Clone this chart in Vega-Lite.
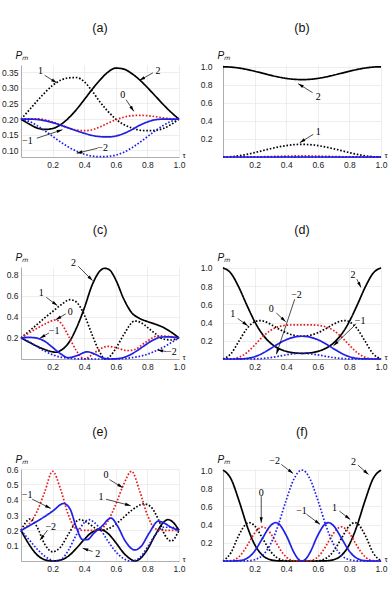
{
"$schema":"https://vega.github.io/schema/vega-lite/v6.json",
"padding":{"left":1,"top":21,"right":0,"bottom":0},
"background":"white",
"bounds":"flush",
"spacing":202,
"datasets":{
"a":[
{"m":"2","t":0,"v":0.2},{"m":"2","t":0.05,"v":0.185},{"m":"2","t":0.1,"v":0.172},{"m":"2","t":0.15,"v":0.167},{"m":"2","t":0.2,"v":0.17},{"m":"2","t":0.25,"v":0.182},{"m":"2","t":0.3,"v":0.203},{"m":"2","t":0.35,"v":0.23},{"m":"2","t":0.4,"v":0.262},{"m":"2","t":0.45,"v":0.295},{"m":"2","t":0.5,"v":0.325},{"m":"2","t":0.55,"v":0.35},{"m":"2","t":0.6,"v":0.363},{"m":"2","t":0.65,"v":0.36},{"m":"2","t":0.7,"v":0.346},{"m":"2","t":0.75,"v":0.326},{"m":"2","t":0.8,"v":0.301},{"m":"2","t":0.85,"v":0.274},{"m":"2","t":0.9,"v":0.247},{"m":"2","t":0.95,"v":0.222},{"m":"2","t":1,"v":0.2},
{"m":"1","t":0,"v":0.2},{"m":"1","t":0.05,"v":0.228},{"m":"1","t":0.1,"v":0.257},{"m":"1","t":0.15,"v":0.284},{"m":"1","t":0.2,"v":0.308},{"m":"1","t":0.25,"v":0.324},{"m":"1","t":0.3,"v":0.332},{"m":"1","t":0.35,"v":0.333},{"m":"1","t":0.4,"v":0.32},{"m":"1","t":0.45,"v":0.29},{"m":"1","t":0.5,"v":0.255},{"m":"1","t":0.55,"v":0.225},{"m":"1","t":0.6,"v":0.2},{"m":"1","t":0.65,"v":0.183},{"m":"1","t":0.7,"v":0.172},{"m":"1","t":0.75,"v":0.165},{"m":"1","t":0.8,"v":0.163},{"m":"1","t":0.85,"v":0.164},{"m":"1","t":0.9,"v":0.17},{"m":"1","t":0.95,"v":0.183},{"m":"1","t":1,"v":0.2},
{"m":"0","t":0,"v":0.2},{"m":"0","t":0.05,"v":0.201},{"m":"0","t":0.1,"v":0.201},{"m":"0","t":0.15,"v":0.198},{"m":"0","t":0.2,"v":0.191},{"m":"0","t":0.25,"v":0.181},{"m":"0","t":0.3,"v":0.172},{"m":"0","t":0.35,"v":0.165},{"m":"0","t":0.4,"v":0.163},{"m":"0","t":0.45,"v":0.166},{"m":"0","t":0.5,"v":0.175},{"m":"0","t":0.55,"v":0.187},{"m":"0","t":0.6,"v":0.198},{"m":"0","t":0.65,"v":0.206},{"m":"0","t":0.7,"v":0.211},{"m":"0","t":0.75,"v":0.212},{"m":"0","t":0.8,"v":0.211},{"m":"0","t":0.85,"v":0.208},{"m":"0","t":0.9,"v":0.204},{"m":"0","t":0.95,"v":0.201},{"m":"0","t":1,"v":0.2},
{"m":"-1","t":0,"v":0.2},{"m":"-1","t":0.05,"v":0.2},{"m":"-1","t":0.1,"v":0.199},{"m":"-1","t":0.15,"v":0.195},{"m":"-1","t":0.2,"v":0.189},{"m":"-1","t":0.25,"v":0.181},{"m":"-1","t":0.3,"v":0.172},{"m":"-1","t":0.35,"v":0.163},{"m":"-1","t":0.4,"v":0.155},{"m":"-1","t":0.45,"v":0.148},{"m":"-1","t":0.5,"v":0.144},{"m":"-1","t":0.55,"v":0.143},{"m":"-1","t":0.6,"v":0.146},{"m":"-1","t":0.65,"v":0.154},{"m":"-1","t":0.7,"v":0.166},{"m":"-1","t":0.75,"v":0.18},{"m":"-1","t":0.8,"v":0.191},{"m":"-1","t":0.85,"v":0.198},{"m":"-1","t":0.9,"v":0.2},{"m":"-1","t":0.95,"v":0.2},{"m":"-1","t":1,"v":0.2},
{"m":"-2","t":0,"v":0.2},{"m":"-2","t":0.05,"v":0.193},{"m":"-2","t":0.1,"v":0.18},{"m":"-2","t":0.15,"v":0.163},{"m":"-2","t":0.2,"v":0.145},{"m":"-2","t":0.25,"v":0.127},{"m":"-2","t":0.3,"v":0.111},{"m":"-2","t":0.35,"v":0.098},{"m":"-2","t":0.4,"v":0.088},{"m":"-2","t":0.45,"v":0.082},{"m":"-2","t":0.5,"v":0.08},{"m":"-2","t":0.55,"v":0.081},{"m":"-2","t":0.6,"v":0.085},{"m":"-2","t":0.65,"v":0.094},{"m":"-2","t":0.7,"v":0.108},{"m":"-2","t":0.75,"v":0.125},{"m":"-2","t":0.8,"v":0.144},{"m":"-2","t":0.85,"v":0.163},{"m":"-2","t":0.9,"v":0.18},{"m":"-2","t":0.95,"v":0.193},{"m":"-2","t":1,"v":0.2}
],
"aa":[
{"lab":"1","tl":0.124,"vl":0.353,"t1":0.15,"v1":0.34,"t2":0.226,"v2":0.316,"ang":122.6},
{"lab":"2","tl":0.867,"vl":0.353,"t1":0.835,"v1":0.348,"t2":0.75,"v2":0.324,"ang":241.2},
{"lab":"0","tl":0.644,"vl":0.276,"t1":0.665,"v1":0.262,"t2":0.714,"v2":0.225,"ang":146.7},
{"lab":"−1","tl":0.04,"vl":0.131,"t1":0.1,"v1":0.139,"t2":0.262,"v2":0.166,"ang":72.9},
{"lab":"−2","tl":0.517,"vl":0.107,"t1":0.485,"v1":0.107,"t2":0.353,"v2":0.091,"ang":256.4}
],
"b":[
{"m":"2","t":0,"v":1},{"m":"2","t":0.05,"v":0.9965},{"m":"2","t":0.1,"v":0.9864},{"m":"2","t":0.15,"v":0.9707},{"m":"2","t":0.2,"v":0.9509},{"m":"2","t":0.25,"v":0.929},{"m":"2","t":0.3,"v":0.907},{"m":"2","t":0.35,"v":0.8873},{"m":"2","t":0.4,"v":0.8716},{"m":"2","t":0.45,"v":0.8615},{"m":"2","t":0.5,"v":0.858},{"m":"2","t":0.55,"v":0.8615},{"m":"2","t":0.6,"v":0.8716},{"m":"2","t":0.65,"v":0.8873},{"m":"2","t":0.7,"v":0.907},{"m":"2","t":0.75,"v":0.929},{"m":"2","t":0.8,"v":0.9509},{"m":"2","t":0.85,"v":0.9707},{"m":"2","t":0.9,"v":0.9864},{"m":"2","t":0.95,"v":0.9965},{"m":"2","t":1,"v":1},
{"m":"1","t":0,"v":0},{"m":"1","t":0.05,"v":0.0034},{"m":"1","t":0.1,"v":0.0134},{"m":"1","t":0.15,"v":0.0289},{"m":"1","t":0.2,"v":0.0484},{"m":"1","t":0.25,"v":0.07},{"m":"1","t":0.3,"v":0.0916},{"m":"1","t":0.35,"v":0.111},{"m":"1","t":0.4,"v":0.1266},{"m":"1","t":0.45,"v":0.1366},{"m":"1","t":0.5,"v":0.14},{"m":"1","t":0.55,"v":0.1366},{"m":"1","t":0.6,"v":0.1266},{"m":"1","t":0.65,"v":0.111},{"m":"1","t":0.7,"v":0.0916},{"m":"1","t":0.75,"v":0.07},{"m":"1","t":0.8,"v":0.0484},{"m":"1","t":0.85,"v":0.0289},{"m":"1","t":0.9,"v":0.0134},{"m":"1","t":0.95,"v":0.0034},{"m":"1","t":1,"v":0},
{"m":"0","t":0,"v":0},{"m":"0","t":0.2,"v":0.0014},{"m":"0","t":0.3,"v":0.0051},{"m":"0","t":0.4,"v":0.0098},{"m":"0","t":0.5,"v":0.012},{"m":"0","t":0.6,"v":0.0098},{"m":"0","t":0.7,"v":0.0051},{"m":"0","t":0.8,"v":0.0014},{"m":"0","t":1,"v":0},
{"m":"-2","t":0,"v":0},{"m":"-2","t":0.5,"v":0},{"m":"-2","t":1,"v":0},
{"m":"-1","t":0,"v":0},{"m":"-1","t":0.5,"v":0},{"m":"-1","t":1,"v":0}
],
"ab":[
{"lab":"2","tl":0.603,"vl":0.665,"t1":0.567,"v1":0.713,"t2":0.476,"v2":0.813,"ang":302.1},
{"lab":"1","tl":0.603,"vl":0.277,"t1":0.571,"v1":0.251,"t2":0.486,"v2":0.159,"ang":238}
],
"c":[
{"m":"2","t":0,"v":0.2},{"m":"2","t":0.05,"v":0.16},{"m":"2","t":0.1,"v":0.122},{"m":"2","t":0.15,"v":0.09},{"m":"2","t":0.2,"v":0.068},{"m":"2","t":0.22,"v":0.064},{"m":"2","t":0.25,"v":0.08},{"m":"2","t":0.3,"v":0.15},{"m":"2","t":0.35,"v":0.29},{"m":"2","t":0.4,"v":0.48},{"m":"2","t":0.45,"v":0.7},{"m":"2","t":0.5,"v":0.835},{"m":"2","t":0.53,"v":0.86},{"m":"2","t":0.56,"v":0.845},{"m":"2","t":0.6,"v":0.75},{"m":"2","t":0.65,"v":0.57},{"m":"2","t":0.7,"v":0.44},{"m":"2","t":0.75,"v":0.385},{"m":"2","t":0.8,"v":0.355},{"m":"2","t":0.85,"v":0.33},{"m":"2","t":0.9,"v":0.3},{"m":"2","t":0.95,"v":0.255},{"m":"2","t":1,"v":0.2},
{"m":"1","t":0,"v":0.2},{"m":"1","t":0.05,"v":0.262},{"m":"1","t":0.1,"v":0.325},{"m":"1","t":0.15,"v":0.39},{"m":"1","t":0.2,"v":0.45},{"m":"1","t":0.25,"v":0.51},{"m":"1","t":0.31,"v":0.562},{"m":"1","t":0.35,"v":0.54},{"m":"1","t":0.4,"v":0.42},{"m":"1","t":0.45,"v":0.23},{"m":"1","t":0.5,"v":0.06},{"m":"1","t":0.53,"v":0},{"m":"1","t":0.56,"v":0.02},{"m":"1","t":0.6,"v":0.1},{"m":"1","t":0.65,"v":0.23},{"m":"1","t":0.72,"v":0.36},{"m":"1","t":0.76,"v":0.345},{"m":"1","t":0.8,"v":0.3},{"m":"1","t":0.85,"v":0.24},{"m":"1","t":0.9,"v":0.19},{"m":"1","t":0.95,"v":0.18},{"m":"1","t":1,"v":0.2},
{"m":"0","t":0,"v":0.2},{"m":"0","t":0.05,"v":0.245},{"m":"0","t":0.1,"v":0.29},{"m":"0","t":0.15,"v":0.33},{"m":"0","t":0.22,"v":0.37},{"m":"0","t":0.25,"v":0.345},{"m":"0","t":0.3,"v":0.22},{"m":"0","t":0.35,"v":0.08},{"m":"0","t":0.4,"v":0},{"m":"0","t":0.45,"v":0.04},{"m":"0","t":0.5,"v":0.095},{"m":"0","t":0.55,"v":0.12},{"m":"0","t":0.6,"v":0.108},{"m":"0","t":0.67,"v":0.08},{"m":"0","t":0.72,"v":0.09},{"m":"0","t":0.78,"v":0.15},{"m":"0","t":0.87,"v":0.22},{"m":"0","t":0.93,"v":0.215},{"m":"0","t":1,"v":0.2},
{"m":"-1","t":0,"v":0.2},{"m":"-1","t":0.05,"v":0.205},{"m":"-1","t":0.1,"v":0.198},{"m":"-1","t":0.15,"v":0.168},{"m":"-1","t":0.2,"v":0.11},{"m":"-1","t":0.25,"v":0.05},{"m":"-1","t":0.3,"v":0.012},{"m":"-1","t":0.35,"v":0.03},{"m":"-1","t":0.42,"v":0.068},{"m":"-1","t":0.47,"v":0.045},{"m":"-1","t":0.52,"v":0.01},{"m":"-1","t":0.56,"v":0},{"m":"-1","t":0.62,"v":0.005},{"m":"-1","t":0.67,"v":0.025},{"m":"-1","t":0.72,"v":0.065},{"m":"-1","t":0.77,"v":0.115},{"m":"-1","t":0.82,"v":0.165},{"m":"-1","t":0.88,"v":0.205},{"m":"-1","t":0.92,"v":0.21},{"m":"-1","t":0.96,"v":0.207},{"m":"-1","t":1,"v":0.2},
{"m":"-2","t":0,"v":0.2},{"m":"-2","t":0.05,"v":0.165},{"m":"-2","t":0.1,"v":0.12},{"m":"-2","t":0.15,"v":0.075},{"m":"-2","t":0.2,"v":0.04},{"m":"-2","t":0.25,"v":0.018},{"m":"-2","t":0.3,"v":0.007},{"m":"-2","t":0.4,"v":0.001},{"m":"-2","t":0.5,"v":0},{"m":"-2","t":0.6,"v":0.001},{"m":"-2","t":0.7,"v":0.012},{"m":"-2","t":0.75,"v":0.025},{"m":"-2","t":0.8,"v":0.045},{"m":"-2","t":0.85,"v":0.075},{"m":"-2","t":0.9,"v":0.11},{"m":"-2","t":0.95,"v":0.155},{"m":"-2","t":1,"v":0.2}
],
"ac":[
{"lab":"2","tl":0.332,"vl":0.907,"t1":0.362,"v1":0.879,"t2":0.453,"v2":0.743,"ang":135},
{"lab":"1","tl":0.128,"vl":0.622,"t1":0.16,"v1":0.585,"t2":0.23,"v2":0.506,"ang":127.1},
{"lab":"0","tl":0.311,"vl":0.449,"t1":0.283,"v1":0.427,"t2":0.22,"v2":0.373,"ang":240.5},
{"lab":"−1","tl":0.21,"vl":0.27,"t1":0.177,"v1":0.247,"t2":0.12,"v2":0.197,"ang":239.3},
{"lab":"−2","tl":0.952,"vl":0.064,"t1":0.92,"v1":0.07,"t2":0.863,"v2":0.086,"ang":280.5}
],
"d":[
{"m":"2","t":0,"v":1},{"m":"2","t":0.05,"v":0.9413},{"m":"2","t":0.1,"v":0.7884},{"m":"2","t":0.15,"v":0.5948},{"m":"2","t":0.2,"v":0.413},{"m":"2","t":0.232,"v":0.3164},{"m":"2","t":0.25,"v":0.2718},{"m":"2","t":0.3,"v":0.1759},{"m":"2","t":0.35,"v":0.1172},{"m":"2","t":0.4,"v":0.084},{"m":"2","t":0.45,"v":0.0674},{"m":"2","t":0.5,"v":0.0625},{"m":"2","t":0.55,"v":0.0674},{"m":"2","t":0.6,"v":0.084},{"m":"2","t":0.65,"v":0.1172},{"m":"2","t":0.7,"v":0.1759},{"m":"2","t":0.75,"v":0.2718},{"m":"2","t":0.768,"v":0.3164},{"m":"2","t":0.8,"v":0.413},{"m":"2","t":0.85,"v":0.5948},{"m":"2","t":0.9,"v":0.7884},{"m":"2","t":0.95,"v":0.9413},{"m":"2","t":1,"v":1},
{"m":"1","t":0,"v":0},{"m":"1","t":0.05,"v":0.0574},{"m":"1","t":0.1,"v":0.1931},{"m":"1","t":0.15,"v":0.3301},{"m":"1","t":0.2,"v":0.4088},{"m":"1","t":0.232,"v":0.4219},{"m":"1","t":0.25,"v":0.4185},{"m":"1","t":0.3,"v":0.3828},{"m":"1","t":0.35,"v":0.3324},{"m":"1","t":0.4,"v":0.2881},{"m":"1","t":0.45,"v":0.2596},{"m":"1","t":0.5,"v":0.25},{"m":"1","t":0.55,"v":0.2596},{"m":"1","t":0.6,"v":0.2881},{"m":"1","t":0.65,"v":0.3324},{"m":"1","t":0.7,"v":0.3828},{"m":"1","t":0.75,"v":0.4185},{"m":"1","t":0.768,"v":0.4219},{"m":"1","t":0.8,"v":0.4088},{"m":"1","t":0.85,"v":0.3301},{"m":"1","t":0.9,"v":0.1931},{"m":"1","t":0.95,"v":0.0574},{"m":"1","t":1,"v":0},
{"m":"0","t":0,"v":0},{"m":"0","t":0.05,"v":0.0013},{"m":"0","t":0.1,"v":0.0177},{"m":"0","t":0.15,"v":0.0687},{"m":"0","t":0.2,"v":0.1518},{"m":"0","t":0.232,"v":0.2109},{"m":"0","t":0.25,"v":0.2417},{"m":"0","t":0.3,"v":0.3125},{"m":"0","t":0.35,"v":0.3536},{"m":"0","t":0.4,"v":0.3706},{"m":"0","t":0.45,"v":0.3747},{"m":"0","t":0.5,"v":0.375},{"m":"0","t":0.55,"v":0.3747},{"m":"0","t":0.6,"v":0.3706},{"m":"0","t":0.65,"v":0.3536},{"m":"0","t":0.7,"v":0.3125},{"m":"0","t":0.75,"v":0.2417},{"m":"0","t":0.768,"v":0.2109},{"m":"0","t":0.8,"v":0.1518},{"m":"0","t":0.85,"v":0.0687},{"m":"0","t":0.9,"v":0.0177},{"m":"0","t":0.95,"v":0.0013},{"m":"0","t":1,"v":0},
{"m":"-1","t":0,"v":0},{"m":"-1","t":0.05,"v":0},{"m":"-1","t":0.1,"v":0.0007},{"m":"-1","t":0.15,"v":0.0064},{"m":"-1","t":0.2,"v":0.025},{"m":"-1","t":0.232,"v":0.0469},{"m":"-1","t":0.25,"v":0.062},{"m":"-1","t":0.3,"v":0.1134},{"m":"-1","t":0.35,"v":0.1671},{"m":"-1","t":0.4,"v":0.2119},{"m":"-1","t":0.45,"v":0.2404},{"m":"-1","t":0.5,"v":0.25},{"m":"-1","t":0.55,"v":0.2404},{"m":"-1","t":0.6,"v":0.2119},{"m":"-1","t":0.65,"v":0.1671},{"m":"-1","t":0.7,"v":0.1134},{"m":"-1","t":0.75,"v":0.062},{"m":"-1","t":0.768,"v":0.0469},{"m":"-1","t":0.8,"v":0.025},{"m":"-1","t":0.85,"v":0.0064},{"m":"-1","t":0.9,"v":0.0007},{"m":"-1","t":0.95,"v":0},{"m":"-1","t":1,"v":0},
{"m":"-2","t":0,"v":0},{"m":"-2","t":0.1,"v":0},{"m":"-2","t":0.15,"v":0.0002},{"m":"-2","t":0.2,"v":0.0016},{"m":"-2","t":0.232,"v":0.0039},{"m":"-2","t":0.25,"v":0.006},{"m":"-2","t":0.3,"v":0.0154},{"m":"-2","t":0.35,"v":0.0296},{"m":"-2","t":0.4,"v":0.0454},{"m":"-2","t":0.45,"v":0.0578},{"m":"-2","t":0.5,"v":0.0625},{"m":"-2","t":0.55,"v":0.0578},{"m":"-2","t":0.6,"v":0.0454},{"m":"-2","t":0.65,"v":0.0296},{"m":"-2","t":0.7,"v":0.0154},{"m":"-2","t":0.75,"v":0.006},{"m":"-2","t":0.768,"v":0.0039},{"m":"-2","t":0.8,"v":0.0016},{"m":"-2","t":0.85,"v":0.0002},{"m":"-2","t":0.9,"v":0},{"m":"-2","t":1,"v":0}
],
"ad":[
{"lab":"2","tl":0.822,"vl":0.924,"t1":0.847,"v1":0.877,"t2":0.873,"v2":0.785,"ang":154.4},
{"lab":"1","tl":0.062,"vl":0.493,"t1":0.093,"v1":0.445,"t2":0.157,"v2":0.365,"ang":126.3},
{"lab":"0","tl":0.306,"vl":0.548,"t1":0.338,"v1":0.504,"t2":0.397,"v2":0.409,"ang":132.9},
{"lab":"−2","tl":0.465,"vl":0.705,"t1":0.454,"v1":0.657,"t2":0.338,"v2":0.053,"ang":198.4},
{"lab":"−1","tl":0.868,"vl":0.419,"t1":0.843,"v1":0.385,"t2":0.699,"v2":0.145,"ang":226.3}
],
"e":[
{"m":"2","t":0,"v":0.2},{"m":"2","t":0.05,"v":0.11},{"m":"2","t":0.1,"v":0.042},{"m":"2","t":0.15,"v":0.008},{"m":"2","t":0.2,"v":0},{"m":"2","t":0.25,"v":0.006},{"m":"2","t":0.3,"v":0.032},{"m":"2","t":0.35,"v":0.082},{"m":"2","t":0.4,"v":0.14},{"m":"2","t":0.45,"v":0.188},{"m":"2","t":0.5,"v":0.205},{"m":"2","t":0.55,"v":0.18},{"m":"2","t":0.6,"v":0.12},{"m":"2","t":0.65,"v":0.052},{"m":"2","t":0.7,"v":0.008},{"m":"2","t":0.72,"v":0},{"m":"2","t":0.75,"v":0.012},{"m":"2","t":0.8,"v":0.075},{"m":"2","t":0.85,"v":0.17},{"m":"2","t":0.9,"v":0.25},{"m":"2","t":0.93,"v":0.27},{"m":"2","t":0.96,"v":0.255},{"m":"2","t":1,"v":0.2},
{"m":"1","t":0,"v":0.2},{"m":"1","t":0.06,"v":0.275},{"m":"1","t":0.1,"v":0.225},{"m":"1","t":0.15,"v":0.11},{"m":"1","t":0.2,"v":0.06},{"m":"1","t":0.25,"v":0.09},{"m":"1","t":0.3,"v":0.175},{"m":"1","t":0.37,"v":0.27},{"m":"1","t":0.42,"v":0.25},{"m":"1","t":0.47,"v":0.215},{"m":"1","t":0.51,"v":0.2},{"m":"1","t":0.55,"v":0.21},{"m":"1","t":0.6,"v":0.24},{"m":"1","t":0.65,"v":0.285},{"m":"1","t":0.7,"v":0.33},{"m":"1","t":0.78,"v":0.372},{"m":"1","t":0.82,"v":0.355},{"m":"1","t":0.87,"v":0.27},{"m":"1","t":0.91,"v":0.17},{"m":"1","t":0.95,"v":0.13},{"m":"1","t":1,"v":0.2},
{"m":"0","t":0,"v":0.2},{"m":"0","t":0.05,"v":0.24},{"m":"0","t":0.1,"v":0.32},{"m":"0","t":0.15,"v":0.45},{"m":"0","t":0.2,"v":0.585},{"m":"0","t":0.25,"v":0.47},{"m":"0","t":0.3,"v":0.3},{"m":"0","t":0.35,"v":0.21},{"m":"0","t":0.4,"v":0.2},{"m":"0","t":0.45,"v":0.2},{"m":"0","t":0.5,"v":0.205},{"m":"0","t":0.55,"v":0.26},{"m":"0","t":0.6,"v":0.37},{"m":"0","t":0.65,"v":0.5},{"m":"0","t":0.7,"v":0.585},{"m":"0","t":0.75,"v":0.46},{"m":"0","t":0.8,"v":0.3},{"m":"0","t":0.85,"v":0.21},{"m":"0","t":0.9,"v":0.2},{"m":"0","t":1,"v":0.2},
{"m":"-1","t":0,"v":0.2},{"m":"-1","t":0.05,"v":0.228},{"m":"-1","t":0.1,"v":0.258},{"m":"-1","t":0.15,"v":0.29},{"m":"-1","t":0.2,"v":0.325},{"m":"-1","t":0.27,"v":0.375},{"m":"-1","t":0.31,"v":0.34},{"m":"-1","t":0.35,"v":0.22},{"m":"-1","t":0.39,"v":0.14},{"m":"-1","t":0.42,"v":0.14},{"m":"-1","t":0.46,"v":0.18},{"m":"-1","t":0.51,"v":0.225},{"m":"-1","t":0.57,"v":0.28},{"m":"-1","t":0.61,"v":0.23},{"m":"-1","t":0.66,"v":0.13},{"m":"-1","t":0.72,"v":0.072},{"m":"-1","t":0.76,"v":0.095},{"m":"-1","t":0.81,"v":0.18},{"m":"-1","t":0.87,"v":0.26},{"m":"-1","t":0.91,"v":0.245},{"m":"-1","t":0.95,"v":0.22},{"m":"-1","t":1,"v":0.2},
{"m":"-2","t":0,"v":0.2},{"m":"-2","t":0.05,"v":0.14},{"m":"-2","t":0.1,"v":0.08},{"m":"-2","t":0.15,"v":0.032},{"m":"-2","t":0.22,"v":0},{"m":"-2","t":0.26,"v":0.015},{"m":"-2","t":0.3,"v":0.07},{"m":"-2","t":0.35,"v":0.17},{"m":"-2","t":0.4,"v":0.25},{"m":"-2","t":0.43,"v":0.27},{"m":"-2","t":0.46,"v":0.255},{"m":"-2","t":0.5,"v":0.21},{"m":"-2","t":0.55,"v":0.13},{"m":"-2","t":0.6,"v":0.06},{"m":"-2","t":0.65,"v":0.015},{"m":"-2","t":0.7,"v":0},{"m":"-2","t":0.75,"v":0.02},{"m":"-2","t":0.8,"v":0.09},{"m":"-2","t":0.85,"v":0.17},{"m":"-2","t":0.9,"v":0.22},{"m":"-2","t":0.95,"v":0.22},{"m":"-2","t":1,"v":0.2}
],
"ae":[
{"lab":"0","tl":0.538,"vl":0.559,"t1":0.56,"v1":0.531,"t2":0.644,"v2":0.478,"ang":122},
{"lab":"1","tl":0.506,"vl":0.418,"t1":0.538,"v1":0.403,"t2":0.694,"v2":0.361,"ang":105.3},
{"lab":"−1","tl":0.039,"vl":0.429,"t1":0.071,"v1":0.403,"t2":0.188,"v2":0.343,"ang":117},
{"lab":"−2","tl":0.188,"vl":0.222,"t1":0.167,"v1":0.2,"t2":0.12,"v2":0.136,"ang":216.3},
{"lab":"2","tl":0.485,"vl":0.046,"t1":0.453,"v1":0.062,"t2":0.39,"v2":0.083,"ang":288.4}
],
"f":[
{"m":"2","t":0,"v":1},{"m":"2","t":0.05,"v":0.9057},{"m":"2","t":0.1,"v":0.6694},{"m":"2","t":0.15,"v":0.3972},{"m":"2","t":0.1667,"v":0.3164},{"m":"2","t":0.2,"v":0.1835},{"m":"2","t":0.25,"v":0.0625},{"m":"2","t":0.3,"v":0.0143},{"m":"2","t":0.3333,"v":0.0039},{"m":"2","t":0.35,"v":0.0018},{"m":"2","t":0.4,"v":0.0001},{"m":"2","t":0.45,"v":0},{"m":"2","t":0.5,"v":0},{"m":"2","t":0.55,"v":0},{"m":"2","t":0.6,"v":0.0001},{"m":"2","t":0.65,"v":0.0018},{"m":"2","t":0.6667,"v":0.0039},{"m":"2","t":0.7,"v":0.0143},{"m":"2","t":0.75,"v":0.0625},{"m":"2","t":0.8,"v":0.1835},{"m":"2","t":0.8333,"v":0.3164},{"m":"2","t":0.85,"v":0.3972},{"m":"2","t":0.9,"v":0.6694},{"m":"2","t":0.95,"v":0.9057},{"m":"2","t":1,"v":1},
{"m":"1","t":0,"v":0},{"m":"1","t":0.05,"v":0.0909},{"m":"1","t":0.1,"v":0.2827},{"m":"1","t":0.15,"v":0.4125},{"m":"1","t":0.1667,"v":0.4219},{"m":"1","t":0.2,"v":0.3875},{"m":"1","t":0.25,"v":0.25},{"m":"1","t":0.3,"v":0.108},{"m":"1","t":0.3333,"v":0.0469},{"m":"1","t":0.35,"v":0.0278},{"m":"1","t":0.4,"v":0.0032},{"m":"1","t":0.45,"v":0.0001},{"m":"1","t":0.5,"v":0},{"m":"1","t":0.55,"v":0.0001},{"m":"1","t":0.6,"v":0.0032},{"m":"1","t":0.65,"v":0.0278},{"m":"1","t":0.6667,"v":0.0469},{"m":"1","t":0.7,"v":0.108},{"m":"1","t":0.75,"v":0.25},{"m":"1","t":0.8,"v":0.3875},{"m":"1","t":0.8333,"v":0.4219},{"m":"1","t":0.85,"v":0.4125},{"m":"1","t":0.9,"v":0.2827},{"m":"1","t":0.95,"v":0.0909},{"m":"1","t":1,"v":0},
{"m":"0","t":0,"v":0},{"m":"0","t":0.05,"v":0.0034},{"m":"0","t":0.1,"v":0.0448},{"m":"0","t":0.15,"v":0.1607},{"m":"0","t":0.1667,"v":0.2109},{"m":"0","t":0.2,"v":0.3068},{"m":"0","t":0.25,"v":0.375},{"m":"0","t":0.3,"v":0.3068},{"m":"0","t":0.3333,"v":0.2109},{"m":"0","t":0.35,"v":0.1607},{"m":"0","t":0.4,"v":0.0448},{"m":"0","t":0.45,"v":0.0034},{"m":"0","t":0.5,"v":0},{"m":"0","t":0.55,"v":0.0034},{"m":"0","t":0.6,"v":0.0448},{"m":"0","t":0.65,"v":0.1607},{"m":"0","t":0.6667,"v":0.2109},{"m":"0","t":0.7,"v":0.3068},{"m":"0","t":0.75,"v":0.375},{"m":"0","t":0.8,"v":0.3068},{"m":"0","t":0.8333,"v":0.2109},{"m":"0","t":0.85,"v":0.1607},{"m":"0","t":0.9,"v":0.0448},{"m":"0","t":0.95,"v":0.0034},{"m":"0","t":1,"v":0},
{"m":"-2","t":0,"v":0},{"m":"-2","t":0.05,"v":0},{"m":"-2","t":0.1,"v":0.0001},{"m":"-2","t":0.15,"v":0.0018},{"m":"-2","t":0.1667,"v":0.0039},{"m":"-2","t":0.2,"v":0.0143},{"m":"-2","t":0.25,"v":0.0625},{"m":"-2","t":0.3,"v":0.1835},{"m":"-2","t":0.3333,"v":0.3164},{"m":"-2","t":0.35,"v":0.3972},{"m":"-2","t":0.4,"v":0.6694},{"m":"-2","t":0.45,"v":0.9057},{"m":"-2","t":0.475,"v":0.9756},{"m":"-2","t":0.5,"v":1},{"m":"-2","t":0.525,"v":0.9756},{"m":"-2","t":0.55,"v":0.9057},{"m":"-2","t":0.6,"v":0.6694},{"m":"-2","t":0.65,"v":0.3972},{"m":"-2","t":0.6667,"v":0.3164},{"m":"-2","t":0.7,"v":0.1835},{"m":"-2","t":0.75,"v":0.0625},{"m":"-2","t":0.8,"v":0.0143},{"m":"-2","t":0.8333,"v":0.0039},{"m":"-2","t":0.85,"v":0.0018},{"m":"-2","t":0.9,"v":0.0001},{"m":"-2","t":0.95,"v":0},{"m":"-2","t":1,"v":0},
{"m":"-1","t":0,"v":0},{"m":"-1","t":0.05,"v":0.0001},{"m":"-1","t":0.1,"v":0.0032},{"m":"-1","t":0.15,"v":0.0278},{"m":"-1","t":0.1667,"v":0.0469},{"m":"-1","t":0.2,"v":0.108},{"m":"-1","t":0.25,"v":0.25},{"m":"-1","t":0.3,"v":0.3875},{"m":"-1","t":0.3333,"v":0.4219},{"m":"-1","t":0.35,"v":0.4125},{"m":"-1","t":0.4,"v":0.2827},{"m":"-1","t":0.45,"v":0.0909},{"m":"-1","t":0.475,"v":0.0242},{"m":"-1","t":0.5,"v":0},{"m":"-1","t":0.525,"v":0.0242},{"m":"-1","t":0.55,"v":0.0909},{"m":"-1","t":0.6,"v":0.2827},{"m":"-1","t":0.65,"v":0.4125},{"m":"-1","t":0.6667,"v":0.4219},{"m":"-1","t":0.7,"v":0.3875},{"m":"-1","t":0.75,"v":0.25},{"m":"-1","t":0.8,"v":0.108},{"m":"-1","t":0.8333,"v":0.0469},{"m":"-1","t":0.85,"v":0.0278},{"m":"-1","t":0.9,"v":0.0032},{"m":"-1","t":0.95,"v":0.0001},{"m":"-1","t":1,"v":0}
],
"af":[
{"lab":"−2","tl":0.327,"vl":1.099,"t1":0.369,"v1":1.062,"t2":0.444,"v2":0.963,"ang":127.6},
{"lab":"2","tl":0.826,"vl":1.088,"t1":0.854,"v1":1.055,"t2":0.921,"v2":0.952,"ang":131.2},
{"lab":"0","tl":0.242,"vl":0.75,"t1":0.242,"v1":0.713,"t2":0.242,"v2":0.42,"ang":180},
{"lab":"−1","tl":0.497,"vl":0.548,"t1":0.529,"v1":0.514,"t2":0.614,"v2":0.403,"ang":126.9},
{"lab":"1","tl":0.705,"vl":0.585,"t1":0.737,"v1":0.549,"t2":0.805,"v2":0.457,"ang":128}
]
},
"vconcat":[
{"hconcat":[
{"width":158,"height":92,"title":"(a)","layer":[
{"data":{"name":"a"},"mark":{"type":"line","interpolate":"monotone","clip":false,"strokeWidth":1.7},"encoding":{
"x":{"field":"t","type":"quantitative","scale":{"domain":[0,1]},"axis":{"values":[0.2,0.4,0.6,0.8,1],"format":".1f","title":"τ","labelOverlap":false,"labelFlush":false}},
"y":{"field":"v","type":"quantitative","scale":{"domain":[0.079,0.373]},"axis":{"values":[0.1,0.15,0.2,0.25,0.3,0.35],"format":".2f","title":"Pₘ","labelOverlap":false,"labelFlush":false}},
"color":{"field":"m","type":"nominal","scale":{"domain":["2","1","0","-1","-2"],"range":["#000000","#000000","#e81818","#1f1fe6","#1f1fe6"]},"legend":null},
"strokeDash":{"field":"m","type":"nominal","scale":{"domain":["2","1","0","-1","-2"],"range":[[1,0],[1.6,1.8],[1.6,1.8],[1,0],[1.6,1.8]]},"legend":null}}},
{"data":{"name":"aa"},"mark":{"type":"rule","color":"#000","strokeWidth":0.7},"encoding":{"x":{"field":"t1","type":"quantitative","scale":{"domain":[0,1]},"axis":{"values":[0.2,0.4,0.6,0.8,1],"format":".1f","title":"τ","labelOverlap":false,"labelFlush":false}},"y":{"field":"v1","type":"quantitative","scale":{"domain":[0.079,0.373]},"axis":{"values":[0.1,0.15,0.2,0.25,0.3,0.35],"format":".2f","title":"Pₘ","labelOverlap":false,"labelFlush":false}},"x2":{"field":"t2"},"y2":{"field":"v2"}}},
{"data":{"name":"aa"},"mark":{"type":"point","shape":"M0,0L-0.45,1.6L0.45,1.6Z","filled":true,"color":"#000","opacity":1,"size":50},"encoding":{"x":{"field":"t2","type":"quantitative","scale":{"domain":[0,1]},"axis":{"values":[0.2,0.4,0.6,0.8,1],"format":".1f","title":"τ","labelOverlap":false,"labelFlush":false}},"y":{"field":"v2","type":"quantitative","scale":{"domain":[0.079,0.373]},"axis":{"values":[0.1,0.15,0.2,0.25,0.3,0.35],"format":".2f","title":"Pₘ","labelOverlap":false,"labelFlush":false}},"angle":{"field":"ang","type":"quantitative","scale":null}}},
{"data":{"name":"aa"},"mark":{"type":"text","font":"Liberation Serif","fontSize":10,"color":"#000"},"encoding":{"x":{"field":"tl","type":"quantitative","scale":{"domain":[0,1]},"axis":{"values":[0.2,0.4,0.6,0.8,1],"format":".1f","title":"τ","labelOverlap":false,"labelFlush":false}},"y":{"field":"vl","type":"quantitative","scale":{"domain":[0.079,0.373]},"axis":{"values":[0.1,0.15,0.2,0.25,0.3,0.35],"format":".2f","title":"Pₘ","labelOverlap":false,"labelFlush":false}},"text":{"field":"lab"}}}
]},
{"width":158,"height":92,"title":"(b)","layer":[
{"data":{"name":"b"},"mark":{"type":"line","interpolate":"monotone","clip":false,"strokeWidth":1.7},"encoding":{
"x":{"field":"t","type":"quantitative","scale":{"domain":[0,1]},"axis":{"values":[0.2,0.4,0.6,0.8,1],"format":".1f","title":"τ","labelOverlap":false,"labelFlush":false}},
"y":{"field":"v","type":"quantitative","scale":{"domain":[0,1.02]},"axis":{"values":[0.2,0.4,0.6,0.8,1],"format":".1f","title":"Pₘ","labelPadding":11,"labelOverlap":false,"labelFlush":false}},
"color":{"field":"m","type":"nominal","scale":{"domain":["2","1","0","-1","-2"],"range":["#000000","#000000","#e81818","#1f1fe6","#1f1fe6"]},"legend":null},
"strokeDash":{"field":"m","type":"nominal","scale":{"domain":["2","1","0","-1","-2"],"range":[[1,0],[1.6,1.8],[1.6,1.8],[1,0],[1.6,1.8]]},"legend":null}}},
{"data":{"name":"ab"},"mark":{"type":"rule","color":"#000","strokeWidth":0.7},"encoding":{"x":{"field":"t1","type":"quantitative","scale":{"domain":[0,1]},"axis":{"values":[0.2,0.4,0.6,0.8,1],"format":".1f","title":"τ","labelOverlap":false,"labelFlush":false}},"y":{"field":"v1","type":"quantitative","scale":{"domain":[0,1.02]},"axis":{"values":[0.2,0.4,0.6,0.8,1],"format":".1f","title":"Pₘ","labelPadding":11,"labelOverlap":false,"labelFlush":false}},"x2":{"field":"t2"},"y2":{"field":"v2"}}},
{"data":{"name":"ab"},"mark":{"type":"point","shape":"M0,0L-0.45,1.6L0.45,1.6Z","filled":true,"color":"#000","opacity":1,"size":50},"encoding":{"x":{"field":"t2","type":"quantitative","scale":{"domain":[0,1]},"axis":{"values":[0.2,0.4,0.6,0.8,1],"format":".1f","title":"τ","labelOverlap":false,"labelFlush":false}},"y":{"field":"v2","type":"quantitative","scale":{"domain":[0,1.02]},"axis":{"values":[0.2,0.4,0.6,0.8,1],"format":".1f","title":"Pₘ","labelPadding":11,"labelOverlap":false,"labelFlush":false}},"angle":{"field":"ang","type":"quantitative","scale":null}}},
{"data":{"name":"ab"},"mark":{"type":"text","font":"Liberation Serif","fontSize":10,"color":"#000"},"encoding":{"x":{"field":"tl","type":"quantitative","scale":{"domain":[0,1]},"axis":{"values":[0.2,0.4,0.6,0.8,1],"format":".1f","title":"τ","labelOverlap":false,"labelFlush":false}},"y":{"field":"vl","type":"quantitative","scale":{"domain":[0,1.02]},"axis":{"values":[0.2,0.4,0.6,0.8,1],"format":".1f","title":"Pₘ","labelPadding":11,"labelOverlap":false,"labelFlush":false}},"text":{"field":"lab"}}}
]}
],"spacing":44,"bounds":"flush"},
{"hconcat":[
{"width":158,"height":92,"title":"(c)","layer":[
{"data":{"name":"c"},"mark":{"type":"line","interpolate":"monotone","clip":false,"strokeWidth":1.7},"encoding":{
"x":{"field":"t","type":"quantitative","scale":{"domain":[0,1]},"axis":{"values":[0.2,0.4,0.6,0.8,1],"format":".1f","title":"τ","labelOverlap":false,"labelFlush":false}},
"y":{"field":"v","type":"quantitative","scale":{"domain":[0,0.872]},"axis":{"values":[0.2,0.4,0.6,0.8],"format":".1f","title":"Pₘ","labelOverlap":false,"labelFlush":false}},
"color":{"field":"m","type":"nominal","scale":{"domain":["2","1","0","-1","-2"],"range":["#000000","#000000","#e81818","#1f1fe6","#1f1fe6"]},"legend":null},
"strokeDash":{"field":"m","type":"nominal","scale":{"domain":["2","1","0","-1","-2"],"range":[[1,0],[1.6,1.8],[1.6,1.8],[1,0],[1.6,1.8]]},"legend":null}}},
{"data":{"name":"ac"},"mark":{"type":"rule","color":"#000","strokeWidth":0.7},"encoding":{"x":{"field":"t1","type":"quantitative","scale":{"domain":[0,1]},"axis":{"values":[0.2,0.4,0.6,0.8,1],"format":".1f","title":"τ","labelOverlap":false,"labelFlush":false}},"y":{"field":"v1","type":"quantitative","scale":{"domain":[0,0.872]},"axis":{"values":[0.2,0.4,0.6,0.8],"format":".1f","title":"Pₘ","labelOverlap":false,"labelFlush":false}},"x2":{"field":"t2"},"y2":{"field":"v2"}}},
{"data":{"name":"ac"},"mark":{"type":"point","shape":"M0,0L-0.45,1.6L0.45,1.6Z","filled":true,"color":"#000","opacity":1,"size":50},"encoding":{"x":{"field":"t2","type":"quantitative","scale":{"domain":[0,1]},"axis":{"values":[0.2,0.4,0.6,0.8,1],"format":".1f","title":"τ","labelOverlap":false,"labelFlush":false}},"y":{"field":"v2","type":"quantitative","scale":{"domain":[0,0.872]},"axis":{"values":[0.2,0.4,0.6,0.8],"format":".1f","title":"Pₘ","labelOverlap":false,"labelFlush":false}},"angle":{"field":"ang","type":"quantitative","scale":null}}},
{"data":{"name":"ac"},"mark":{"type":"text","font":"Liberation Serif","fontSize":10,"color":"#000"},"encoding":{"x":{"field":"tl","type":"quantitative","scale":{"domain":[0,1]},"axis":{"values":[0.2,0.4,0.6,0.8,1],"format":".1f","title":"τ","labelOverlap":false,"labelFlush":false}},"y":{"field":"vl","type":"quantitative","scale":{"domain":[0,0.872]},"axis":{"values":[0.2,0.4,0.6,0.8],"format":".1f","title":"Pₘ","labelOverlap":false,"labelFlush":false}},"text":{"field":"lab"}}}
]},
{"width":158,"height":92,"title":"(d)","layer":[
{"data":{"name":"d"},"mark":{"type":"line","interpolate":"monotone","clip":false,"strokeWidth":1.7},"encoding":{
"x":{"field":"t","type":"quantitative","scale":{"domain":[0,1]},"axis":{"values":[0.2,0.4,0.6,0.8,1],"format":".1f","title":"τ","labelOverlap":false,"labelFlush":false}},
"y":{"field":"v","type":"quantitative","scale":{"domain":[0,1.01]},"axis":{"values":[0.2,0.4,0.6,0.8,1],"format":".1f","title":"Pₘ","labelPadding":11,"labelOverlap":false,"labelFlush":false}},
"color":{"field":"m","type":"nominal","scale":{"domain":["2","1","0","-1","-2"],"range":["#000000","#000000","#e81818","#1f1fe6","#1f1fe6"]},"legend":null},
"strokeDash":{"field":"m","type":"nominal","scale":{"domain":["2","1","0","-1","-2"],"range":[[1,0],[1.6,1.8],[1.6,1.8],[1,0],[1.6,1.8]]},"legend":null}}},
{"data":{"name":"ad"},"mark":{"type":"rule","color":"#000","strokeWidth":0.7},"encoding":{"x":{"field":"t1","type":"quantitative","scale":{"domain":[0,1]},"axis":{"values":[0.2,0.4,0.6,0.8,1],"format":".1f","title":"τ","labelOverlap":false,"labelFlush":false}},"y":{"field":"v1","type":"quantitative","scale":{"domain":[0,1.01]},"axis":{"values":[0.2,0.4,0.6,0.8,1],"format":".1f","title":"Pₘ","labelPadding":11,"labelOverlap":false,"labelFlush":false}},"x2":{"field":"t2"},"y2":{"field":"v2"}}},
{"data":{"name":"ad"},"mark":{"type":"point","shape":"M0,0L-0.45,1.6L0.45,1.6Z","filled":true,"color":"#000","opacity":1,"size":50},"encoding":{"x":{"field":"t2","type":"quantitative","scale":{"domain":[0,1]},"axis":{"values":[0.2,0.4,0.6,0.8,1],"format":".1f","title":"τ","labelOverlap":false,"labelFlush":false}},"y":{"field":"v2","type":"quantitative","scale":{"domain":[0,1.01]},"axis":{"values":[0.2,0.4,0.6,0.8,1],"format":".1f","title":"Pₘ","labelPadding":11,"labelOverlap":false,"labelFlush":false}},"angle":{"field":"ang","type":"quantitative","scale":null}}},
{"data":{"name":"ad"},"mark":{"type":"text","font":"Liberation Serif","fontSize":10,"color":"#000"},"encoding":{"x":{"field":"tl","type":"quantitative","scale":{"domain":[0,1]},"axis":{"values":[0.2,0.4,0.6,0.8,1],"format":".1f","title":"τ","labelOverlap":false,"labelFlush":false}},"y":{"field":"vl","type":"quantitative","scale":{"domain":[0,1.01]},"axis":{"values":[0.2,0.4,0.6,0.8,1],"format":".1f","title":"Pₘ","labelPadding":11,"labelOverlap":false,"labelFlush":false}},"text":{"field":"lab"}}}
]}
],"spacing":44,"bounds":"flush"},
{"hconcat":[
{"width":158,"height":92,"title":"(e)","layer":[
{"data":{"name":"e"},"mark":{"type":"line","interpolate":"monotone","clip":false,"strokeWidth":1.7},"encoding":{
"x":{"field":"t","type":"quantitative","scale":{"domain":[0,1]},"axis":{"values":[0.2,0.4,0.6,0.8,1],"format":".1f","title":"τ","labelOverlap":false,"labelFlush":false}},
"y":{"field":"v","type":"quantitative","scale":{"domain":[0,0.6]},"axis":{"values":[0.1,0.2,0.3,0.4,0.5,0.6],"format":".1f","title":"Pₘ","labelOverlap":false,"labelFlush":false}},
"color":{"field":"m","type":"nominal","scale":{"domain":["2","1","0","-1","-2"],"range":["#000000","#000000","#e81818","#1f1fe6","#1f1fe6"]},"legend":null},
"strokeDash":{"field":"m","type":"nominal","scale":{"domain":["2","1","0","-1","-2"],"range":[[1,0],[1.6,1.8],[1.6,1.8],[1,0],[1.6,1.8]]},"legend":null}}},
{"data":{"name":"ae"},"mark":{"type":"rule","color":"#000","strokeWidth":0.7},"encoding":{"x":{"field":"t1","type":"quantitative","scale":{"domain":[0,1]},"axis":{"values":[0.2,0.4,0.6,0.8,1],"format":".1f","title":"τ","labelOverlap":false,"labelFlush":false}},"y":{"field":"v1","type":"quantitative","scale":{"domain":[0,0.6]},"axis":{"values":[0.1,0.2,0.3,0.4,0.5,0.6],"format":".1f","title":"Pₘ","labelOverlap":false,"labelFlush":false}},"x2":{"field":"t2"},"y2":{"field":"v2"}}},
{"data":{"name":"ae"},"mark":{"type":"point","shape":"M0,0L-0.45,1.6L0.45,1.6Z","filled":true,"color":"#000","opacity":1,"size":50},"encoding":{"x":{"field":"t2","type":"quantitative","scale":{"domain":[0,1]},"axis":{"values":[0.2,0.4,0.6,0.8,1],"format":".1f","title":"τ","labelOverlap":false,"labelFlush":false}},"y":{"field":"v2","type":"quantitative","scale":{"domain":[0,0.6]},"axis":{"values":[0.1,0.2,0.3,0.4,0.5,0.6],"format":".1f","title":"Pₘ","labelOverlap":false,"labelFlush":false}},"angle":{"field":"ang","type":"quantitative","scale":null}}},
{"data":{"name":"ae"},"mark":{"type":"text","font":"Liberation Serif","fontSize":10,"color":"#000"},"encoding":{"x":{"field":"tl","type":"quantitative","scale":{"domain":[0,1]},"axis":{"values":[0.2,0.4,0.6,0.8,1],"format":".1f","title":"τ","labelOverlap":false,"labelFlush":false}},"y":{"field":"vl","type":"quantitative","scale":{"domain":[0,0.6]},"axis":{"values":[0.1,0.2,0.3,0.4,0.5,0.6],"format":".1f","title":"Pₘ","labelOverlap":false,"labelFlush":false}},"text":{"field":"lab"}}}
]},
{"width":158,"height":92,"title":"(f)","layer":[
{"data":{"name":"f"},"mark":{"type":"line","interpolate":"monotone","clip":false,"strokeWidth":1.7},"encoding":{
"x":{"field":"t","type":"quantitative","scale":{"domain":[0,1]},"axis":{"values":[0.2,0.4,0.6,0.8,1],"format":".1f","title":"τ","labelOverlap":false,"labelFlush":false}},
"y":{"field":"v","type":"quantitative","scale":{"domain":[0,1.012]},"axis":{"values":[0.2,0.4,0.6,0.8,1],"format":".1f","title":"Pₘ","labelPadding":11,"labelOverlap":false,"labelFlush":false}},
"color":{"field":"m","type":"nominal","scale":{"domain":["2","1","0","-1","-2"],"range":["#000000","#000000","#e81818","#1f1fe6","#1f1fe6"]},"legend":null},
"strokeDash":{"field":"m","type":"nominal","scale":{"domain":["2","1","0","-1","-2"],"range":[[1,0],[1.6,1.8],[1.6,1.8],[1,0],[1.6,1.8]]},"legend":null}}},
{"data":{"name":"af"},"mark":{"type":"rule","color":"#000","strokeWidth":0.7},"encoding":{"x":{"field":"t1","type":"quantitative","scale":{"domain":[0,1]},"axis":{"values":[0.2,0.4,0.6,0.8,1],"format":".1f","title":"τ","labelOverlap":false,"labelFlush":false}},"y":{"field":"v1","type":"quantitative","scale":{"domain":[0,1.012]},"axis":{"values":[0.2,0.4,0.6,0.8,1],"format":".1f","title":"Pₘ","labelPadding":11,"labelOverlap":false,"labelFlush":false}},"x2":{"field":"t2"},"y2":{"field":"v2"}}},
{"data":{"name":"af"},"mark":{"type":"point","shape":"M0,0L-0.45,1.6L0.45,1.6Z","filled":true,"color":"#000","opacity":1,"size":50},"encoding":{"x":{"field":"t2","type":"quantitative","scale":{"domain":[0,1]},"axis":{"values":[0.2,0.4,0.6,0.8,1],"format":".1f","title":"τ","labelOverlap":false,"labelFlush":false}},"y":{"field":"v2","type":"quantitative","scale":{"domain":[0,1.012]},"axis":{"values":[0.2,0.4,0.6,0.8,1],"format":".1f","title":"Pₘ","labelPadding":11,"labelOverlap":false,"labelFlush":false}},"angle":{"field":"ang","type":"quantitative","scale":null}}},
{"data":{"name":"af"},"mark":{"type":"text","font":"Liberation Serif","fontSize":10,"color":"#000"},"encoding":{"x":{"field":"tl","type":"quantitative","scale":{"domain":[0,1]},"axis":{"values":[0.2,0.4,0.6,0.8,1],"format":".1f","title":"τ","labelOverlap":false,"labelFlush":false}},"y":{"field":"vl","type":"quantitative","scale":{"domain":[0,1.012]},"axis":{"values":[0.2,0.4,0.6,0.8,1],"format":".1f","title":"Pₘ","labelPadding":11,"labelOverlap":false,"labelFlush":false}},"text":{"field":"lab"}}}
]}
],"spacing":44,"bounds":"flush"}
],
"config":{
"view":{"stroke":null},
"font":"Liberation Sans",
"title":{"fontSize":12.5,"fontWeight":"normal","offset":16,"color":"#111","font":"Liberation Sans"},
"axis":{"labelFont":"Liberation Sans","labelFontSize":8.5,"labelColor":"#222","domainColor":"#999","domainWidth":0.8,"ticks":false,"tickSize":0,"gridColor":"#e6e6e6","gridWidth":0.7,"titleFont":"Liberation Sans","titleFontWeight":"normal","titleColor":"#111","labelPadding":3,"labelFlush":false,"labelOverlap":false},
"axisX":{"titleX":161,"titleY":0,"titleAlign":"left","titleBaseline":"alphabetic","titleFontSize":8},
"axisY":{"titleAngle":0,"titleX":-6,"titleY":-7,"titleAlign":"left","titleBaseline":"alphabetic","titleFontSize":10,"titleFontStyle":"italic"}
}
}
